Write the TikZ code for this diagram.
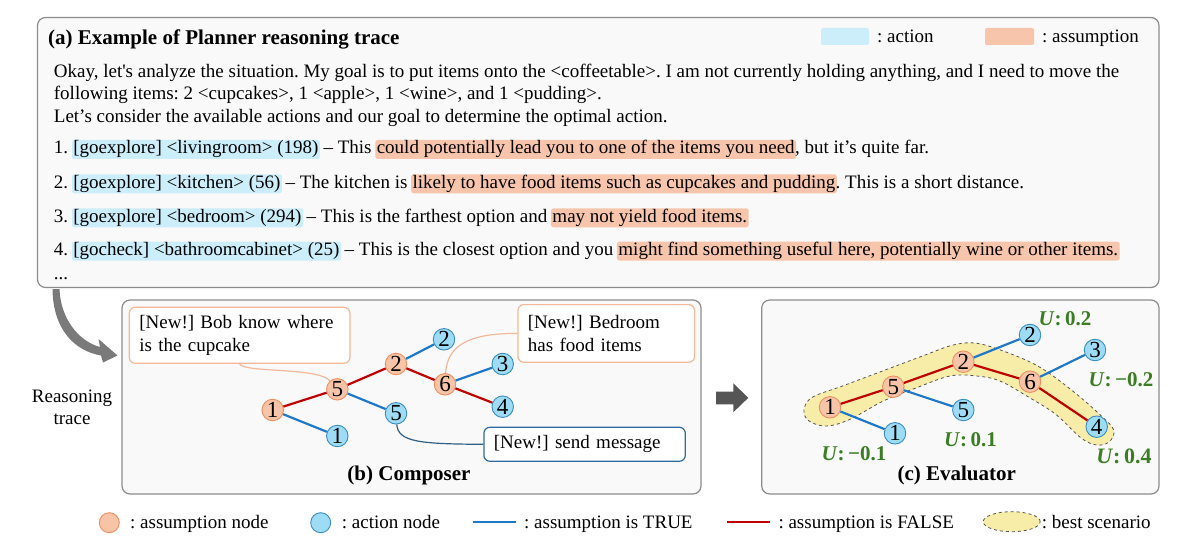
\documentclass[tikz,border=0pt]{standalone}
\usepackage{fontspec}
\setmainfont{Liberation Serif}
\usetikzlibrary{shapes.geometric}
\frenchspacing
\definecolor{panelbg}{HTML}{F9F9F9}
\definecolor{panelborder}{HTML}{8C8C8C}
\definecolor{hlblue}{HTML}{CCEEFB}
\definecolor{hlsalmon}{HTML}{F7C5AC}
\definecolor{afill}{HTML}{F7C4A8}
\definecolor{aborder}{HTML}{EC8F60}
\definecolor{bfill}{HTML}{9EDCF6}
\definecolor{bborder}{HTML}{3A8DC0}
\definecolor{tblue}{HTML}{1F78C8}
\definecolor{fred}{HTML}{C00000}
\definecolor{calloutO}{HTML}{F4B798}
\definecolor{calloutB}{HTML}{2F6B9E}
\definecolor{connO}{HTML}{F2B89A}
\definecolor{connB}{HTML}{2E5F86}
\definecolor{ugreen}{HTML}{3B7D23}
\definecolor{yband}{HTML}{F7EDA9}
\definecolor{yborder}{HTML}{555555}
\definecolor{curvegray}{HTML}{7A7A7A}
\definecolor{arrowgray}{HTML}{555555}
\newcommand{\wsp}{\hspace*{0.25em}}
\newcommand{\ulab}[1]{{\bfseries\itshape U}\textbf{:\,#1}}
\begin{document}
\begin{tikzpicture}[x=1pt,y=-1pt,
  every node/.style={font=\fontsize{19}{22.3}\selectfont},
  panel/.style={draw=panelborder, fill=panelbg, line width=1.2pt, rounded corners=8pt},
  plain/.style={inner sep=0pt, anchor=base west},
  hlb/.style={fill=hlblue, rounded corners=2.5pt, inner xsep=1.5pt, inner ysep=0pt, text height=14pt, text depth=5pt, anchor=base west, xshift=-1.5pt},
  hls/.style={hlb, fill=hlsalmon},
  after/.style={plain, xshift=-1.5pt},
  anode/.style={circle, draw=aborder, fill=afill, line width=0.9pt, inner sep=0pt, minimum size=21.5pt, font=\fontsize{23}{23}\selectfont},
  bnode/.style={anode, draw=bborder, fill=bfill},
  tedge/.style={draw=tblue, line width=2.2pt},
  fedge/.style={draw=fred, line width=2.2pt},
  callo/.style={draw=calloutO, fill=white, line width=1.2pt, rounded corners=6pt, anchor=north west, align=left, inner xsep=10pt},
  callb/.style={callo, draw=calloutB},
  conno/.style={draw=connO, line width=1.2pt},
  connb/.style={draw=connB, line width=1.2pt},
  ulabel/.style={text=ugreen, inner sep=0pt, font=\fontsize{21}{24}\selectfont},
  ttl/.style={font=\fontsize{21}{24}\selectfont\bfseries}
]
\useasboundingbox (0,0) rectangle (1199,540);

% ---------------- panel (a)
\draw[panel] (37.5,17.5) rectangle (1159,287.5);
\node[plain, ttl] (ta) at (48,44.5) {(a) Example of Planner reasoning trace};
\node[fill=hlblue, rounded corners=2pt, minimum width=48pt, minimum height=17pt, inner sep=0pt] (lgb) at (845,36.5) {};
\node[plain] (lgbt) at (877,42.5) {: action};
\node[fill=hlsalmon, rounded corners=2pt, minimum width=49pt, minimum height=17pt, inner sep=0pt] (lgs) at (1009.5,36.5) {};
\node[plain] (lgst) at (1042,42.5) {: assumption};

\node[plain] (l1) at (53.7,77.5) {Okay, let\textquotesingle s analyze the situation. My goal is to put items onto the <coffeetable>. I am not currently holding anything, and I need to move the};
\node[plain] (l2) at (53.7,99.8) {following items: 2 <cupcakes>, 1 <apple>, 1 <wine>, and 1 <pudding>.};
\node[plain] (l3) at (53.7,122.5) {Let’s consider the available actions and our goal to determine the optimal action.};

\node[plain] (i1a) at (53.7,154) {1.\wsp};
\node[hlb] (i1b) at (i1a.base east) {[goexplore] <livingroom> (198)};
\node[after] (i1c) at (i1b.base east) {\wsp– This\wsp};
\node[hls] (i1d) at (i1c.base east) {could potentially lead you to one of the items you need};
\node[after] (i1e) at (i1d.base east) {, but it’s quite far.};

\node[plain] (i2a) at (53.7,188.3) {2.\wsp};
\node[hlb] (i2b) at (i2a.base east) {[goexplore] <kitchen> (56)};
\node[after] (i2c) at (i2b.base east) {\wsp– The kitchen is\wsp};
\node[hls] (i2d) at (i2c.base east) {likely to have food items such as cupcakes and pudding};
\node[after] (i2e) at (i2d.base east) {. This is a short distance.};

\node[plain] (i3a) at (53.7,222.3) {3.\wsp};
\node[hlb] (i3b) at (i3a.base east) {[goexplore] <bedroom> (294)};
\node[after] (i3c) at (i3b.base east) {\wsp– This is the farthest option and\wsp};
\node[hls] (i3d) at (i3c.base east) {may not yield food items.};

\node[plain] (i4a) at (53.7,255.6) {4.\wsp};
\node[hlb] (i4b) at (i4a.base east) {[gocheck] <bathroomcabinet> (25)};
\node[after] (i4c) at (i4b.base east) {\wsp– This is the closest option and you\wsp};
\node[hls] (i4d) at (i4c.base east) {might find something useful here, potentially wine or other items.};

\node[plain] (dots) at (53.7,279) {...};

% curved arrow and caption
\fill[curvegray] (52.5,289) .. controls (53,330) and (75,351) .. (101,355.5) -- (103,362.5) -- (117.5,355.5) -- (98.5,339) -- (100,347) .. controls (78,341) and (60.5,318) .. (59.5,289) -- cycle;
\node[align=center, inner sep=0pt] (rt) at (72,407) {Reasoning\\trace};

% ---------------- panel (b)
\draw[panel] (122,300) rectangle (701,494);
\node[callo, minimum width=220.6pt, minimum height=56pt, text width=200.6pt] (bob) at (128.7,306.7) {[New!] Bob know where\\is the cupcake};
\node[callo, minimum width=176.7pt, minimum height=57.7pt, text width=156.7pt] (bed) at (517.3,304) {[New!] Bedroom\\has food items};
\node[callb, minimum width=201.4pt, minimum height=34pt, text width=181.4pt] (send) at (483.3,426.7) {[New!] send message};

\node[anode] (o1) at (272.7,410) {1};
\node[anode] (o5) at (337.3,389.3) {5};
\node[anode] (o2) at (396,364) {2};
\node[anode] (o6) at (445,384.3) {6};
\node[bnode] (b2) at (444,339.3) {2};
\node[bnode] (b5) at (396,413.3) {5};
\node[bnode] (b1) at (337.3,436) {1};
\node[bnode] (b3) at (502.7,364) {3};
\node[bnode] (b4) at (502.7,406.7) {4};

\draw[conno] (bob.south) .. controls (244,373) and (318,367) .. (o5);
\draw[conno] (o6) .. controls (447,348) and (465,333) .. (bed.west);
\draw[connb] (b5) .. controls (398,442) and (420,444) .. (send.west);

\draw[fedge] (o1) -- (o5);
\draw[tedge] (o1) -- (b1);
\draw[fedge] (o5) -- (o2);
\draw[tedge] (o5) -- (b5);
\draw[tedge] (o2) -- (b2);
\draw[fedge] (o2) -- (o6);
\draw[tedge] (o6) -- (b3);
\draw[fedge] (o6) -- (b4);

\node[ttl] (tb) at (409,475) {(b) Composer};

% arrow between (b) and (c)
\fill[arrowgray] (716,391.7) -- (733.3,391.7) -- (733.3,383.3) -- (748.3,397.8) -- (733.3,412.3) -- (733.3,404.3) -- (716,404.3) -- cycle;

% ---------------- panel (c)
\draw[panel] (761.7,300) rectangle (1159,494);
\draw[dashed, draw=yborder, fill=yband, line width=0.8pt] plot[smooth cycle, tension=0.6] coordinates {
 (804,410) (812.3,397.3) (843.3,385.7) (883.3,370.7) (923.3,355.7) (953.3,345) (976.7,343.3)
 (1006.7,352.3) (1040,367.3) (1074.3,392.3) (1101,415.7) (1113.7,430) (1109.3,441.7) (1096.7,445)
 (1080.7,437.7) (1055.7,414.3) (1026.7,396) (1000,381) (976.7,376) (950,376) (916.7,387.7)
 (883.3,401) (850,419.3) (826.7,426) (809,421)};

\node[anode] (e1) at (830,407.3) {1};
\node[anode] (e5) at (893.3,386.7) {5};
\node[anode] (e2) at (963.3,361.7) {2};
\node[anode] (e6) at (1030,381.7) {6};
\node[bnode] (f2) at (1030,335) {2};
\node[bnode] (f3) at (1095,350) {3};
\node[bnode] (f4) at (1096.7,426.7) {4};
\node[bnode] (f5) at (963.3,410) {5};
\node[bnode] (f1) at (895,433.3) {1};

\draw[fedge] (e1) -- (e5);
\draw[tedge] (e1) -- (f1);
\draw[fedge] (e5) -- (e2);
\draw[tedge] (e5) -- (f5);
\draw[tedge] (e2) -- (f2);
\draw[fedge] (e2) -- (e6);
\draw[tedge] (e6) -- (f3);
\draw[fedge] (e6) -- (f4);

\node[ulabel] (u2) at (1065,318.3) {\ulab{0.2}};
\node[ulabel] (u3) at (1121,379.3) {\ulab{−0.2}};
\node[ulabel] (u5) at (970.5,440) {\ulab{0.1}};
\node[ulabel] (u1) at (854,453.3) {\ulab{−0.1}};
\node[ulabel, font=\fontsize{22}{24}\selectfont] (u4) at (1124,456.7) {\ulab{0.4}};

\node[ttl] (tc) at (956.7,475) {(c) Evaluator};

% ---------------- bottom legend
\node[anode, minimum size=20pt] (la) at (109.3,522.7) {};
\node[plain] (lat) at (130,528) {: assumption node};
\node[bnode, minimum size=20pt] (lb) at (320.7,522.7) {};
\node[plain] (lbt) at (341.7,528) {: action node};
\coordinate (lt1) at (472.7,522);
\coordinate (lt2) at (516,522);
\draw[tedge, line width=2.5pt] (lt1) -- (lt2);
\node[plain] (ltt) at (524,528) {: assumption is TRUE};
\coordinate (lf1) at (726.7,522);
\coordinate (lf2) at (770,522);
\draw[fedge, line width=2.5pt] (lf1) -- (lf2);
\node[plain] (lft) at (778.3,528) {: assumption is FALSE};
\node[ellipse, draw=yborder, dashed, fill=yband, line width=0.8pt, minimum width=57pt, minimum height=20pt, inner sep=0pt] (ly) at (1011.7,521.7) {};
\node[plain] (lyt) at (1041.7,528) {: best scenario};
\end{tikzpicture}
\end{document}
